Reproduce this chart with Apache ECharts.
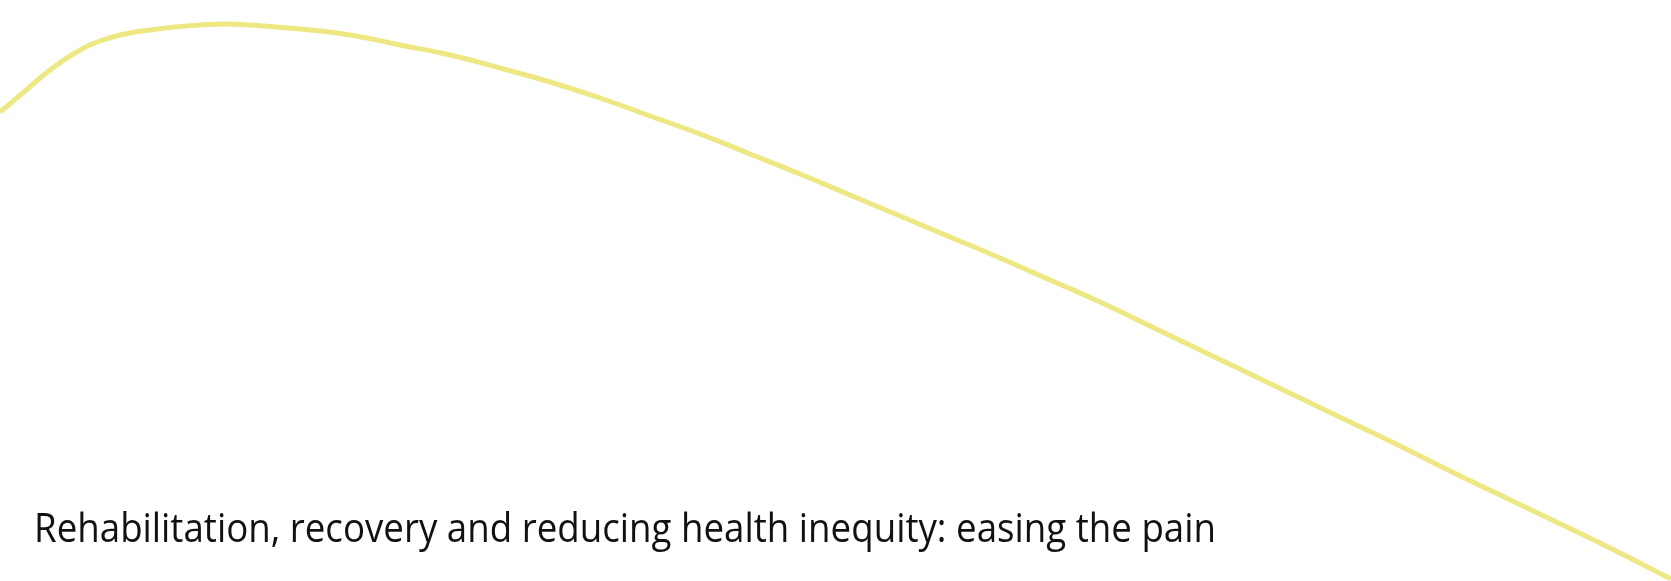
<!DOCTYPE html>
<html>
<head>
<meta charset="utf-8">
<script src="https://cdn.jsdelivr.net/npm/echarts@6/dist/echarts.min.js"></script>
<style>
html,body{margin:0;padding:0;background:#fff;}
#chart{width:1671px;height:581px;}
</style>
</head>
<body>
<div id="chart"></div>
<script>
const titleText = 'Rehabilitation, recovery and reducing health inequity: easing the pain';
const curveX = [0, 25, 50, 75, 100, 125, 150, 175, 200, 225, 250, 300, 350, 400, 450, 500, 550, 600, 650, 700, 750, 800, 850, 900, 950, 1000, 1050, 1100, 1150, 1200, 1250, 1300, 1350, 1400, 1450, 1500, 1550, 1600, 1671];
const curveY = [112, 91, 70, 53, 41, 34, 30, 27, 25, 24, 25, 29, 35, 45, 55, 68, 82, 98, 116, 134, 154, 174, 195, 216, 237, 258, 280, 302, 326, 350, 374, 398, 422, 446, 471, 495, 519, 543, 579];

const titleFont = '400 40px "Open Sans"';
const targetWidth = 1182;
const measureCtx = document.createElement('canvas').getContext('2d');
measureCtx.font = titleFont;
const natWidth = measureCtx.measureText(titleText).width;
const sx = targetWidth / natWidth;

const chart = echarts.init(document.getElementById('chart'), null, {renderer: 'canvas'});
chart.setOption({
  backgroundColor: '#ffffff',
  animation: false,
  grid: {left: 0, right: 0, top: 0, bottom: 0},
  xAxis: {type: 'value', min: 0, max: 1671, show: false},
  yAxis: {type: 'value', min: 0, max: 581, inverse: true, show: false},
  graphic: [{
    type: 'text',
    x: 34,
    y: 531,
    scaleX: sx,
    style: {
      text: titleText,
      x: 0,
      y: 0,
      font: titleFont,
      fill: '#111111',
      textAlign: 'left',
      textVerticalAlign: 'middle',
      verticalAlign: 'middle'
    }
  }],
  series: [{
    type: 'line',
    data: curveX.map((x, i) => [x, curveY[i]]),
    smooth: 0.5,
    symbol: 'none',
    lineStyle: {color: '#EDE882', width: 5},
    clip: true
  }]
});
</script>
</body>
</html>
